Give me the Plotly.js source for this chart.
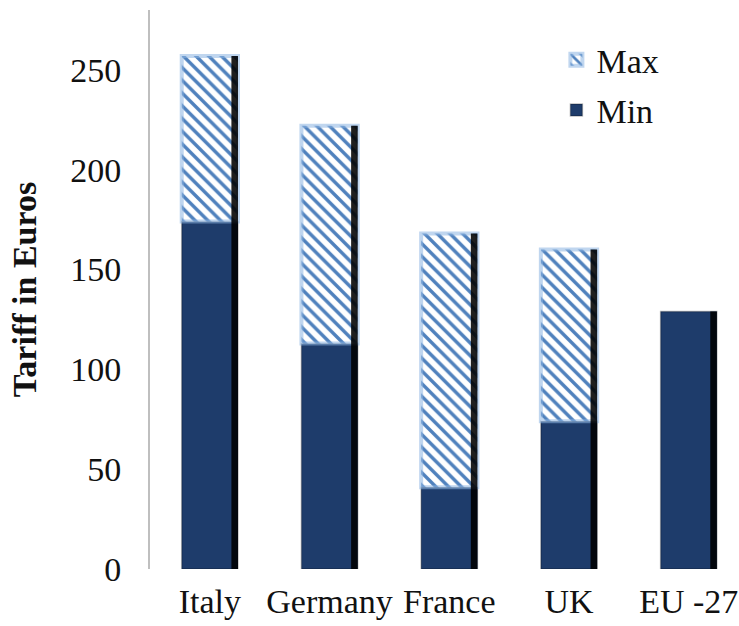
<!DOCTYPE html>
<html>
<head>
<meta charset="utf-8">
<script src="https://cdn.plot.ly/plotly-3.0.1.min.js"></script>
<style>html,body{margin:0;padding:0;background:#fff;}#chart{width:739px;height:626px;}</style>
</head>
<body>
<div id="chart"></div>
<script>
// Data
const countries = ["Italy", "Germany", "France", "UK", "EU -27"];
const minTariff = [174, 113, 41, 74, 129];
const maxTariff = [257, 222, 168, 160, null];
const yTicks = [0, 50, 100, 150, 200, 250];

const maxSpan = maxTariff.map((v, i) => v == null ? null : v - minTariff[i]);
const topValue = maxTariff.map((v, i) => v == null ? minTariff[i] : v);

const BAR_W = 0.47;
const SHADE_W = 0.055;
const serif = "Liberation Serif, Times New Roman, serif";

const traces = [
  {
    type: "bar", name: "Min", legendgroup: "a", legendrank: 2, x: countries, y: minTariff, base: 0,
    width: BAR_W,
    marker: { color: "#1e3c6b", line: { color: "rgba(0,0,0,0.25)", width: 1.5 } },
    hoverinfo: "x+y"
  },
  {
    type: "bar", name: "Max", legendgroup: "b", legendrank: 1, x: countries, y: maxSpan, base: minTariff,
    width: BAR_W,
    marker: {
      color: "#ffffff",
      pattern: { shape: "\\", fgcolor: "#4f81bd", bgcolor: "#ffffff", size: 9, solidity: 0.38 },
      line: { color: "rgba(141,180,226,0.55)", width: 4 }
    },
    customdata: maxTariff,
    hovertemplate: "%{x}: %{customdata}<extra>Max</extra>"
  },
  {
    type: "bar", name: "edge", legendgroup: "c", legendrank: 3, x: countries, y: topValue, base: 0,
    width: SHADE_W, offset: BAR_W / 2 - SHADE_W,
    marker: { color: "rgba(0,0,0,0.88)", line: { width: 0 } },
    showlegend: false, hoverinfo: "skip"
  }
];

const layout = {
  width: 739, height: 626,
  margin: { l: 150, r: 0, t: 10, b: 57 },
  paper_bgcolor: "#ffffff", plot_bgcolor: "#ffffff",
  barmode: "overlay",
  showlegend: true,
  font: { family: serif, size: 34, color: "#111" },
  xaxis: {
    type: "category",
    range: [-0.5, 4.42],
    showline: false, showgrid: false, zeroline: false, ticks: "",
    tickfont: { family: serif, size: 34, color: "#111" },
    ticklabelstandoff: 9
  },
  yaxis: {
    range: [0, 280],
    tickvals: yTicks,
    showline: true, linecolor: "#bfbfbf", linewidth: 2,
    showgrid: false, zeroline: false, ticks: "",
    tickfont: { family: serif, size: 34, color: "#111" },
    ticklabelstandoff: 20,
    title: { text: "<b>Tariff in Euros</b>", font: { family: serif, size: 34, color: "#111" }, standoff: 23 }
  },
  legend: {
    x: 0.69, y: 0.962, xanchor: "left", yanchor: "top",
    traceorder: "grouped",
    tracegroupgap: 3,
    bgcolor: "rgba(0,0,0,0)",
    font: { family: serif, size: 34, color: "#111" },
    itemwidth: 30
  }
};

Plotly.newPlot("chart", traces, layout, { displayModeBar: false, staticPlot: true });
</script>
</body>
</html>
